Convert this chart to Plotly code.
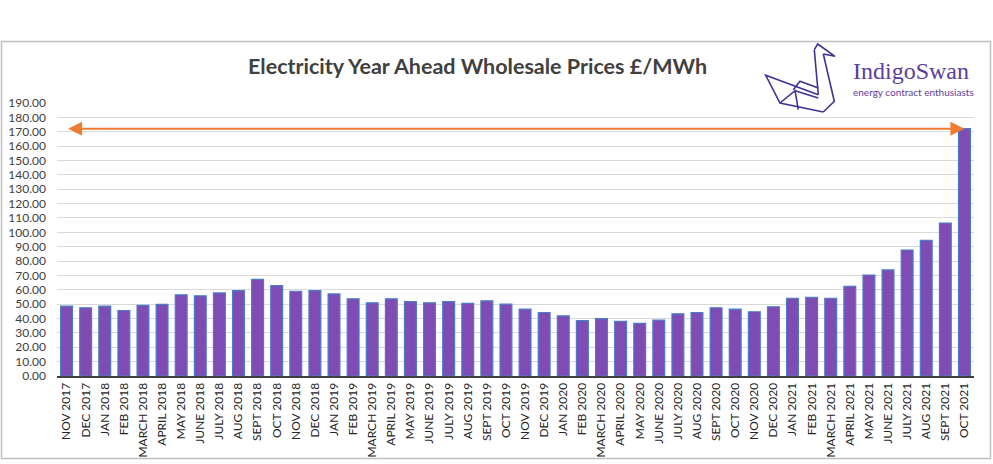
import plotly.graph_objects as go

months = ["NOV 2017", "DEC 2017", "JAN 2018", "FEB 2018", "MARCH 2018", "APRIL 2018",
          "MAY 2018", "JUNE 2018", "JULY 2018", "AUG 2018", "SEPT 2018", "OCT 2018",
          "NOV 2018", "DEC 2018", "JAN 2019", "FEB 2019", "MARCH 2019", "APRIL 2019",
          "MAY 2019", "JUNE 2019", "JULY 2019", "AUG 2019", "SEPT 2019", "OCT 2019",
          "NOV 2019", "DEC 2019", "JAN 2020", "FEB 2020", "MARCH 2020", "APRIL 2020",
          "MAY 2020", "JUNE 2020", "JULY 2020", "AUG 2020", "SEPT 2020", "OCT 2020",
          "NOV 2020", "DEC 2020", "JAN 2021", "FEB 2021", "MARCH 2021", "APRIL 2021",
          "MAY 2021", "JUNE 2021", "JULY 2021", "AUG 2021", "SEPT 2021", "OCT 2021"]

prices = [48.6, 47.5, 48.6, 45.6, 49.1, 49.8, 56.5, 55.8, 57.8, 59.4, 67.3, 62.9,
          59.0, 59.4, 57.1, 53.7, 50.9, 53.7, 51.8, 50.9, 51.8, 50.5, 52.3, 50.0,
          46.5, 44.2, 41.9, 38.5, 39.9, 38.0, 36.6, 38.9, 43.3, 44.2, 47.5, 46.5,
          44.7, 48.2, 54.1, 54.8, 54.1, 62.4, 70.3, 73.8, 87.7, 94.4, 106.5, 172.1]

y_ticks = list(range(0, 200, 10))
y_tick_labels = [f"{v:.2f}" for v in y_ticks]

title_text = "Electricity Year Ahead Wholesale Prices £/MWh"
brand_name = "IndigoSwan"
brand_tagline = "energy contract enthusiasts"

W, H = 993, 464
L, R, T, B = 57, 19, 103, 88
PW, PH = W - L - R, H - T - B


def px(x):
    return (x - L) / PW


def py(y):
    return (H - B - y) / PH


fig = go.Figure()
fig.add_trace(go.Bar(
    x=months, y=prices,
    marker=dict(color="#7e4cb3", line=dict(color="#4a7cc9", width=1.2)),
    hoverinfo="x+y",
))

# Orange double-headed arrow from first to last month at latest price level
fig.add_annotation(
    x=len(months) - 1, y=prices[-1], ax=0, ay=prices[-1],
    xref="x", yref="y", axref="x", ayref="y",
    text="", showarrow=True, arrowhead=2, arrowside="end+start",
    arrowsize=1.4, arrowwidth=2, arrowcolor="#ed7d31", standoff=0, startstandoff=0,
)

# Title
fig.add_annotation(
    x=px(477), y=py(66), xref="paper", yref="paper",
    text=f"<b>{title_text}</b>", showarrow=False,
    font=dict(family="Lato", size=21.5, color="#404040"),
    xanchor="center", yanchor="middle",
)

# Brand text
fig.add_annotation(
    x=px(851), y=py(71), xref="paper", yref="paper",
    text=brand_name, showarrow=False,
    font=dict(family="Liberation Serif", size=24, color="#5b3d9e"),
    xanchor="left", yanchor="middle",
)
fig.add_annotation(
    x=px(851), y=py(92), xref="paper", yref="paper",
    text=brand_tagline, showarrow=False,
    font=dict(family="Lato", size=10, color="#5b3d9e"),
    xanchor="left", yanchor="middle",
)

# Swan logo (decorative line drawing)
swan_lines = [
    [(814.3, 49.7), (817.7, 44), (835, 56.3), (823.3, 54)],
    [(814.3, 49.7), (818.3, 94.7)],
    [(823.3, 54), (834.3, 101.3), (823.3, 112)],
    [(823.3, 112), (780, 103), (765.7, 75.3), (818.3, 94.7)],
    [(780, 103), (795, 90.7), (798.3, 109.7)],
    [(795, 90.7), (818.3, 98)],
    [(793.3, 89.7), (800, 81.3), (818.3, 88)],
]
for seg in swan_lines:
    path = "M " + " L ".join(f"{px(a):.5f},{py(b):.5f}" for a, b in seg)
    fig.add_shape(type="path", path=path, xref="paper", yref="paper",
                  line=dict(color="#3f3294", width=1.6))

# Outer border
fig.add_shape(type="rect", xref="paper", yref="paper",
              x0=px(1.5), x1=px(990.5), y0=py(458.5), y1=py(41.5),
              line=dict(color="#bfbfbf", width=1.5))

fig.update_layout(
    width=W, height=H,
    margin=dict(l=L, r=R, t=T, b=B, autoexpand=False),
    paper_bgcolor="white", plot_bgcolor="white",
    showlegend=False, bargap=0.38,
    font=dict(family="Lato", color="#404040"),
)
fig.update_xaxes(
    type="category", tickangle=-90, automargin=False,
    tickfont=dict(family="Lato", size=12, color="#262626"),
    showline=True, linecolor="#404040", linewidth=2,
    showgrid=False, ticks="",
)
fig.update_yaxes(
    range=[0, 190], tickvals=y_ticks, ticktext=y_tick_labels, automargin=False,
    tickfont=dict(family="Lato", size=12, color="#404040"),
    showgrid=True, gridcolor="#d9d9d9", gridwidth=1.2,
    zeroline=False, showline=False, ticks="", ticklabelstandoff=10,
)

fig.write_html(
    "out.html",
    config={"displayModeBar": False},
    post_script="document.body.style.margin='0';document.body.style.overflow='hidden';",
)
